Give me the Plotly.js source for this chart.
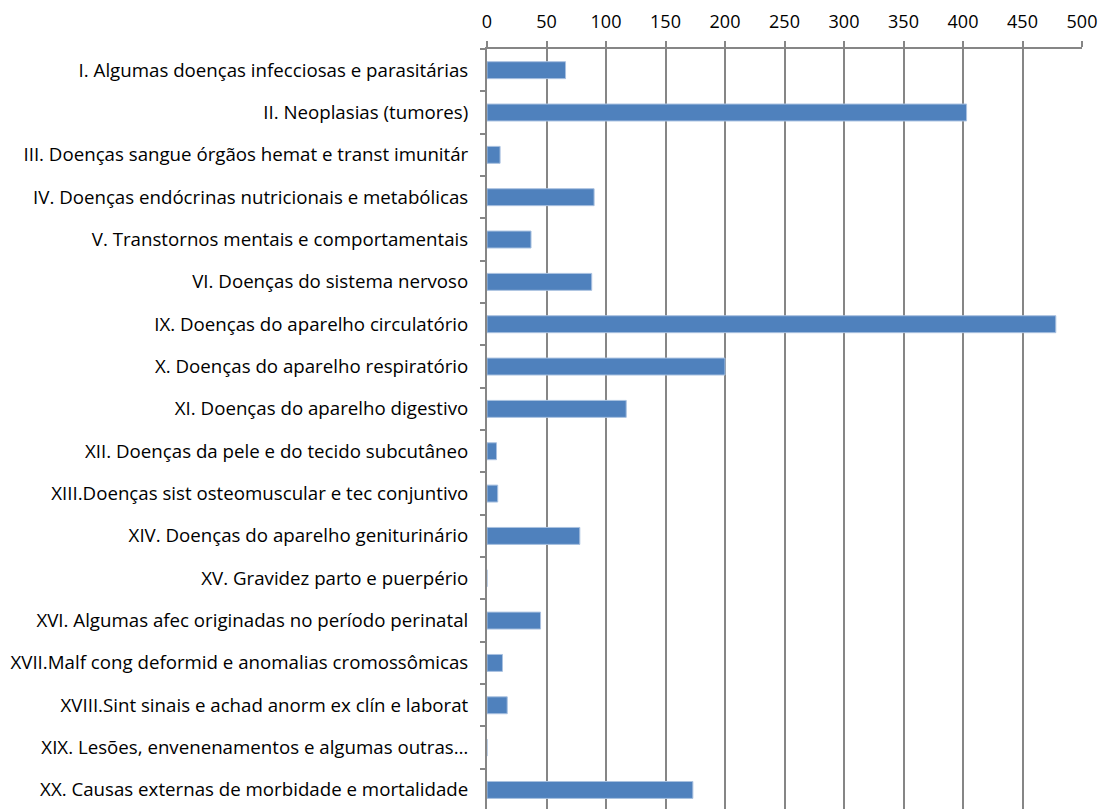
<!DOCTYPE html>
<html>
<head>
<meta charset="utf-8">
<script src="https://cdn.plot.ly/plotly-3.0.1.min.js"></script>
<style>html,body{margin:0;padding:0;background:#fff;}#chart{width:1102px;height:809px;}</style>
</head>
<body>
<div id="chart"></div>
<script>
const categories = [
  "I. Algumas doenças infecciosas e parasitárias",
  "II. Neoplasias (tumores)",
  "III. Doenças sangue órgãos hemat e transt imunitár",
  "IV. Doenças endócrinas nutricionais e metabólicas",
  "V. Transtornos mentais e comportamentais",
  "VI. Doenças do sistema nervoso",
  "IX. Doenças do aparelho circulatório",
  "X. Doenças do aparelho respiratório",
  "XI. Doenças do aparelho digestivo",
  "XII. Doenças da pele e do tecido subcutâneo",
  "XIII.Doenças sist osteomuscular e tec conjuntivo",
  "XIV. Doenças do aparelho geniturinário",
  "XV. Gravidez parto e puerpério",
  "XVI. Algumas afec originadas no período perinatal",
  "XVII.Malf cong deformid e anomalias cromossômicas",
  "XVIII.Sint sinais e achad anorm ex clín e laborat",
  "XIX. Lesões, envenenamentos e algumas outras…",
  "XX. Causas externas de morbidade e mortalidade"
];
const values = [66, 403, 11, 90, 37, 88, 478, 200, 117, 8, 9, 78, 0, 45, 13, 17, 0, 173];
const xTicks = [0, 50, 100, 150, 200, 250, 300, 350, 400, 450, 500];

const font = "'Open Sans', Lato, sans-serif";
const trace = {
  type: 'bar',
  orientation: 'h',
  x: values,
  y: categories,
  width: 0.4,
  marker: {color: '#4F81BD', line: {color: '#a9c1e0', width: 1}},
  hoverinfo: 'x+y'
};
const layout = {
  width: 1102,
  height: 809,
  margin: {l: 487, r: 20, t: 49, b: 0, pad: 0},
  paper_bgcolor: '#fff',
  plot_bgcolor: '#fff',
  showlegend: false,
  font: {family: font, size: 18, color: '#000'},
  xaxis: {
    side: 'top',
    range: [0, 500],
    tickvals: xTicks,
    ticktext: xTicks.map(String),
    showgrid: true,
    gridcolor: '#868686',
    gridwidth: 2,
    zeroline: false,
    showline: true,
    linecolor: '#868686',
    linewidth: 2,
    ticks: 'outside',
    ticklen: 6,
    tickcolor: '#868686',
    tickwidth: 2,
    ticklabelstandoff: 6,
    tickfont: {family: font, size: 18, color: '#000'},
    fixedrange: true
  },
  yaxis: {
    type: 'category',
    categoryorder: 'array',
    categoryarray: categories,
    range: [17.45, -0.5],
    showgrid: false,
    zeroline: false,
    showline: true,
    linecolor: '#868686',
    linewidth: 2,
    ticks: 'outside',
    tickson: 'boundaries',
    ticklen: 5,
    tickcolor: '#868686',
    tickwidth: 2,
    ticklabelstandoff: 13,
    tickfont: {family: font, size: 18.7, color: '#000'},
    fixedrange: true
  }
};
Plotly.newPlot('chart', [trace], layout, {displayModeBar: false, staticPlot: true});
</script>
</body>
</html>
